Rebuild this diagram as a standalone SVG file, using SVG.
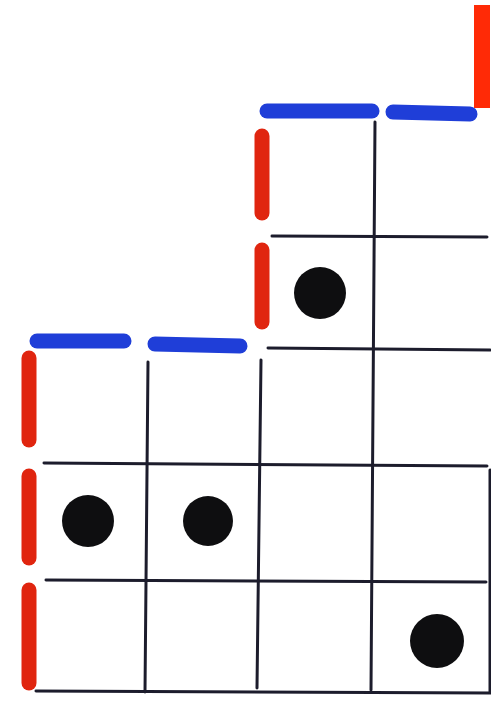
<svg xmlns="http://www.w3.org/2000/svg" width="491" height="702" viewBox="0 0 491 702">
<style>
.g{stroke:#1c1c2c;stroke-width:3;stroke-linecap:round;fill:none}
.b{stroke:#1f3ed8;stroke-width:15;stroke-linecap:round;fill:none}
.r{stroke:#e0250f;stroke-width:15;stroke-linecap:round;fill:none}
.d{fill:#0e0e10}
</style>
<rect width="491" height="702" fill="#ffffff"/>
<rect x="474" y="5" width="16" height="103" fill="#ff2a06"/>
<g id="grid">
<line class="g" x1="272" y1="236" x2="487" y2="237"/>
<line class="g" x1="268" y1="348" x2="490" y2="350"/>
<line class="g" x1="44" y1="463" x2="487" y2="466"/>
<line class="g" x1="46" y1="580" x2="486" y2="582"/>
<line class="g" x1="36" y1="691" x2="491" y2="693"/>
<line class="g" x1="375" y1="122" x2="371" y2="690"/>
<line class="g" x1="148" y1="362" x2="145" y2="692"/>
<line class="g" x1="261" y1="360" x2="257" y2="688"/>
<line class="g" x1="490" y1="470" x2="490" y2="692"/>
</g>
<g id="blue">
<line class="b" x1="267" y1="111" x2="372" y2="111"/>
<line class="b" x1="393" y1="112" x2="470" y2="114"/>
<line class="b" x1="37" y1="341" x2="124" y2="341"/>
<line class="b" x1="155" y1="344" x2="240" y2="346"/>
</g>
<g id="red">
<line class="r" x1="262" y1="136" x2="262" y2="213"/>
<line class="r" x1="262" y1="250" x2="262" y2="322"/>
<line class="r" x1="29" y1="358" x2="29" y2="440"/>
<line class="r" x1="29" y1="476" x2="29" y2="558"/>
<line class="r" x1="29" y1="590" x2="29" y2="683"/>
</g>
<g id="dots">
<circle class="d" cx="320" cy="293" r="26"/>
<circle class="d" cx="88" cy="521" r="26"/>
<circle class="d" cx="208" cy="521" r="25"/>
<circle class="d" cx="437" cy="641" r="27"/>
</g>
</svg>
